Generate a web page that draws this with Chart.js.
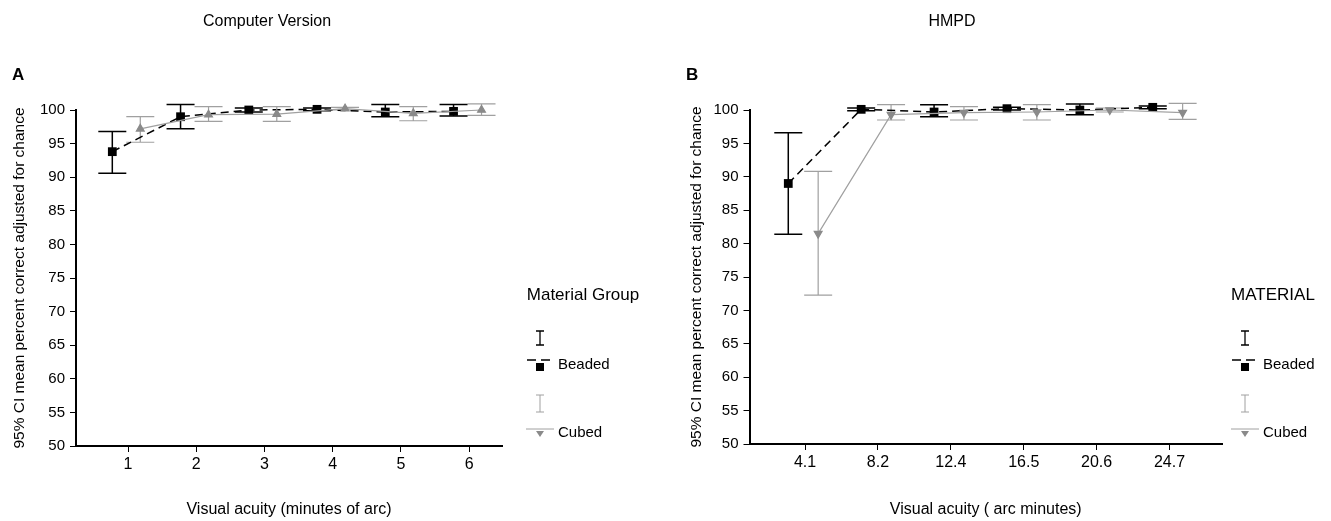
<!DOCTYPE html>
<html><head><meta charset="utf-8">
<script src="https://cdn.jsdelivr.net/npm/chart.js@4.4.0/dist/chart.umd.min.js"></script>
<style>
html,body{margin:0;padding:0;background:#fff;}
#wrap{position:relative;width:1331px;height:521px;overflow:hidden;}
canvas{position:absolute;top:0;}
#cA{left:0}
#cB{left:660px}
</style></head><body>
<div id="wrap"><canvas id="cA" width="660" height="521"></canvas><canvas id="cB" width="671" height="521"></canvas></div>
<script>
// ---- text ----
const panelTitles = ['Computer Version', 'HMPD'];
const panelLetters = ['A', 'B'];
const yTitle = '95% CI mean percent correct adjusted for chance';
const xTitleA = 'Visual acuity (minutes of arc)';
const xTitleB = 'Visual acuity ( arc minutes)';
const legendTitles = ['Material Group', 'MATERIAL'];
const seriesNames = ['Beaded', 'Cubed'];

// ---- categories / tick labels ----
const ticksA = ['1', '2', '3', '4', '5', '6'];
const ticksB = ['4.1', '8.2', '12.4', '16.5', '20.6', '24.7'];

// ---- Panel A (Computer Version) ----
const beadedMeanA = [93.8, 99.0, 100.0, 100.1, 99.7, 99.8];
const beadedLoA   = [90.6, 97.2, 99.7, 99.9, 99.0, 99.1];
const beadedHiA   = [96.8, 100.8, 100.3, 100.3, 100.8, 100.8];
const cubedMeanA  = [97.2, 99.3, 99.4, 100.2, 99.5, 100.0];
const cubedLoA    = [95.2, 98.3, 98.3, 100.0, 98.4, 99.2];
const cubedHiA    = [99.0, 100.5, 100.5, 100.4, 100.5, 100.9];

// ---- Panel B (HMPD) ----
const beadedMeanB = [89.0, 100.1, 99.7, 100.2, 100.0, 100.4];
const beadedLoB   = [81.4, 99.9, 99.0, 100.0, 99.3, 100.2];
const beadedHiB   = [96.6, 100.3, 100.8, 100.4, 100.9, 100.6];
const cubedMeanB  = [81.5, 99.3, 99.6, 99.7, 100.0, 99.6];
const cubedLoB    = [72.3, 98.5, 98.5, 98.5, 99.7, 98.6];
const cubedHiB    = [90.8, 100.8, 100.5, 100.8, 100.3, 101.0];

// ---- styling / layout ----
const FONT = '"Liberation Sans", Arial, sans-serif';
Chart.defaults.font.family = FONT;
Chart.defaults.color = '#000';
const BLACK = '#000000';
const GRAY = '#a0a0a0';
const OFF_BEADED = -0.23, OFF_CUBED = 0.18;   // side-by-side dodge within a category
const CAP = 14;

const errorBars = {
  id: 'errorBars',
  beforeDatasetsDraw(chart) {
    const ys = chart.scales.y, ctx = chart.ctx;
    chart.data.datasets.forEach((ds, di) => {
      const meta = chart.getDatasetMeta(di);
      ctx.save();
      ctx.strokeStyle = ds.errColor; ctx.lineWidth = ds.errWidth;
      meta.data.forEach((pt, i) => {
        const x = pt.x, yl = ys.getPixelForValue(ds.errLo[i]), yh = ys.getPixelForValue(ds.errHi[i]);
        ctx.beginPath();
        ctx.moveTo(x, yl); ctx.lineTo(x, yh);
        ctx.moveTo(x - CAP, yl); ctx.lineTo(x + CAP, yl);
        ctx.moveTo(x - CAP, yh); ctx.lineTo(x + CAP, yh);
        ctx.stroke();
      });
      ctx.restore();
    });
  }
};

const annot = {
  id: 'annot',
  afterDraw(chart, args, o) {
    const ctx = chart.ctx;
    ctx.save();
    ctx.fillStyle = BLACK; ctx.textBaseline = 'middle';
    ctx.font = '16px ' + FONT; ctx.textAlign = 'center';
    ctx.fillText(o.title, o.titleX, 22);
    ctx.font = 'bold 17px ' + FONT; ctx.textAlign = 'left';
    ctx.fillText(o.letter, o.letterX, 75);
    // legend
    const lx = o.legX;
    ctx.font = '17px ' + FONT; ctx.textAlign = 'center';
    ctx.fillText(o.legTitle, o.legTitleX, 295);
    ctx.font = '15px ' + FONT; ctx.textAlign = 'left';
    ctx.fillText(seriesNames[0], lx + 18, 365);
    ctx.fillText(seriesNames[1], lx + 18, 433);
    // beaded icon
    ctx.strokeStyle = BLACK; ctx.lineWidth = 1.3;
    ctx.beginPath();
    ctx.moveTo(lx, 331); ctx.lineTo(lx, 345);
    ctx.moveTo(lx - 4, 331); ctx.lineTo(lx + 4, 331);
    ctx.moveTo(lx - 4, 345); ctx.lineTo(lx + 4, 345);
    ctx.stroke();
    ctx.beginPath(); ctx.setLineDash([9, 5]);
    ctx.moveTo(lx - 13, 360); ctx.lineTo(lx + 14, 360); ctx.stroke();
    ctx.setLineDash([]);
    ctx.fillRect(lx - 4, 363, 8, 8);
    // cubed icon
    ctx.strokeStyle = GRAY; ctx.fillStyle = '#8a8a8a'; ctx.lineWidth = 1;
    ctx.beginPath();
    ctx.moveTo(lx, 395); ctx.lineTo(lx, 412);
    ctx.moveTo(lx - 4, 395); ctx.lineTo(lx + 4, 395);
    ctx.moveTo(lx - 4, 412); ctx.lineTo(lx + 4, 412);
    ctx.moveTo(lx - 14, 429); ctx.lineTo(lx + 14, 429);
    ctx.stroke();
    ctx.beginPath(); ctx.moveTo(lx - 4, 431); ctx.lineTo(lx + 4, 431); ctx.lineTo(lx, 437); ctx.closePath(); ctx.fill();
    ctx.restore();
  }
};

function makeChart(id, cfg) {
  const tickLabels = cfg.ticks;
  const pts = (arr, off) => arr.map((v, i) => ({ x: i + 1 + off, y: v }));
  const axisGrid = { display: true, drawOnChartArea: false, drawTicks: true, tickLength: 6, color: BLACK, lineWidth: 1 };
  const axisBorder = { display: true, color: BLACK, width: 2 };
  return new Chart(document.getElementById(id), {
    type: 'line',
    data: {
      datasets: [
        {
          label: seriesNames[1], data: pts(cfg.cMean, OFF_CUBED), errLo: cfg.cLo, errHi: cfg.cHi,
          errColor: GRAY, errWidth: 1.2,
          borderColor: GRAY, borderWidth: 1.2, pointStyle: 'triangle', pointRotation: cfg.triRot,
          pointRadius: 4.5, pointBackgroundColor: '#8a8a8a', pointBorderColor: '#8a8a8a', clip: false
        },
        {
          label: seriesNames[0], data: pts(cfg.bMean, OFF_BEADED), errLo: cfg.bLo, errHi: cfg.bHi,
          errColor: BLACK, errWidth: 1.5,
          borderColor: BLACK, borderWidth: 1.5, borderDash: [8, 5], pointStyle: 'rect',
          pointRadius: 6.2, pointBackgroundColor: BLACK, pointBorderColor: BLACK, pointBorderWidth: 0, clip: false
        }
      ]
    },
    options: {
      responsive: false, animation: false, devicePixelRatio: 1,
      layout: { padding: cfg.pad },
      plugins: { legend: { display: false }, tooltip: { enabled: false }, annot: cfg.annot },
      scales: {
        x: {
          type: 'linear', min: cfg.xMin, max: cfg.xMax,
          afterBuildTicks: s => { s.ticks = tickLabels.map((t, i) => ({ value: i + 1 })); },
          afterFit: s => { s.height = cfg.xH; },
          ticks: { callback: v => tickLabels[Math.round(v) - 1] ?? '', font: { size: 16 }, color: BLACK, padding: 3, maxRotation: 0, autoSkip: false },
          grid: axisGrid, border: axisBorder,
          title: { display: true, text: cfg.xTitle, font: { size: 16 }, color: BLACK, padding: { top: 0, bottom: 2 } }
        },
        y: {
          min: 50, max: 100,
          afterFit: s => { s.width = cfg.yW; },
          ticks: { stepSize: 5, font: { size: 15 }, color: BLACK, padding: 5 },
          grid: axisGrid, border: axisBorder,
          title: { display: true, text: yTitle, font: { size: 15.5 }, color: BLACK, padding: 0 }
        }
      }
    },
    plugins: [errorBars, annot]
  });
}

makeChart('cA', {
  ticks: ticksA, xTitle: xTitleA,
  bMean: beadedMeanA, bLo: beadedLoA, bHi: beadedHiA,
  cMean: cubedMeanA, cLo: cubedLoA, cHi: cubedHiA, triRot: 0,
  xMin: 0.238, xMax: 6.48, pad: { left: 10, right: 158, top: 110, bottom: 0 }, yW: 66, xH: 75,
  annot: { title: panelTitles[0], titleX: 267, letter: panelLetters[0], letterX: 12,
           legTitle: legendTitles[0], legTitleX: 583, legX: 540 }
});

makeChart('cB', {
  ticks: ticksB, xTitle: xTitleB,
  bMean: beadedMeanB, bLo: beadedLoB, bHi: beadedHiB,
  cMean: cubedMeanB, cLo: cubedLoB, cHi: cubedHiB, triRot: 180,
  xMin: 0.238, xMax: 6.72, pad: { left: 27, right: 109, top: 110, bottom: 0 }, yW: 62.5, xH: 77,
  annot: { title: panelTitles[1], titleX: 292, letter: panelLetters[1], letterX: 26,
           legTitle: legendTitles[1], legTitleX: 613, legX: 585 }
});
</script>
</body></html>
